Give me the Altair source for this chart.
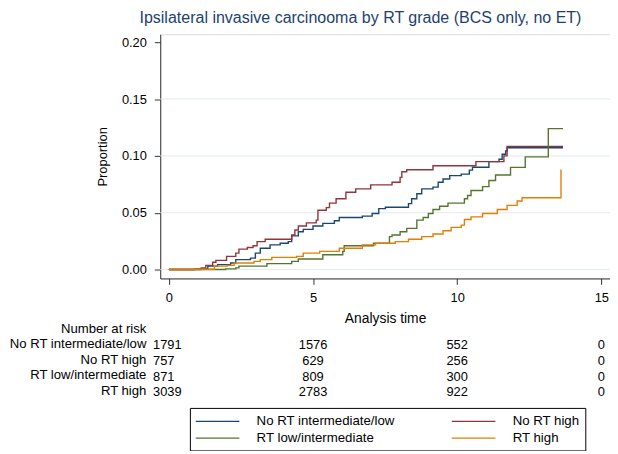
import altair as alt
import pandas as pd

FONT = "Liberation Sans"

groups = ["No RT intermediate/low", "No RT high", "RT low/intermediate", "RT high"]
colors = ["#1a476f", "#90353b", "#55752f", "#e37e00"]

# Cumulative incidence step curves (time in years, proportion)
t_blue = [0, 0.89, 1.0, 1.35, 1.69, 2.14, 2.32, 2.83, 3.0, 3.17, 3.51, 3.86, 4.14, 4.26, 4.49, 4.66,
          5.0, 5.34, 5.74, 5.91, 6.71, 7.05, 7.28, 7.51, 8.31, 8.42, 8.6, 8.77, 9.16, 9.34, 9.51,
          9.74, 10.14, 10.42, 10.53, 11.1, 11.45, 11.56, 11.68, 11.73, 13.67]
p_blue = [0, 0.0003, 0.0006, 0.003, 0.0043, 0.0058, 0.0087, 0.0101, 0.0145, 0.0188, 0.0217, 0.0232,
          0.0246, 0.0296, 0.0333, 0.0354, 0.0383, 0.0406, 0.0429, 0.0458, 0.047, 0.0493, 0.0536,
          0.0548, 0.058, 0.0623, 0.0667, 0.071, 0.0725, 0.0768, 0.0797, 0.0826, 0.084, 0.0875,
          0.090, 0.095, 0.0971, 0.1014, 0.1043, 0.1072, 0.1072]

t_red = [0, 1.12, 1.28, 1.52, 1.63, 2.0, 2.32, 2.43, 2.72, 2.92, 3.06, 3.34, 4.26, 4.37, 4.49, 4.77,
         5.11, 5.17, 5.46, 5.57, 5.8, 6.14, 6.48, 7.0, 7.74, 8.02, 8.08, 8.25, 9.16, 10.65, 11.62,
         11.73, 13.67]
p_red = [0, 0.0015, 0.0037, 0.0064, 0.0081, 0.0116, 0.0145, 0.018, 0.0194, 0.0209, 0.0246, 0.0267,
         0.0304, 0.0348, 0.0383, 0.0411, 0.0435, 0.0522, 0.0545, 0.0585, 0.0623, 0.068, 0.071,
         0.0745, 0.0768, 0.0811, 0.0861, 0.0878, 0.0913, 0.095, 0.100, 0.1084, 0.1084]

t_green = [0, 1.97, 2.32, 2.43, 3.4, 4.26, 4.49, 5.34, 6.03, 6.08, 7.1, 7.65, 7.74, 8.02, 8.25, 8.6,
           8.82, 9.0, 9.16, 9.39, 9.68, 10.25, 10.36, 10.48, 10.88, 11.1, 11.33, 11.85, 12.36,
           13.16, 13.67]
p_green = [0, 0.0006, 0.0015, 0.003, 0.0052, 0.0072, 0.0093, 0.013, 0.016, 0.0209, 0.0232, 0.029,
           0.0304, 0.0333, 0.0362, 0.0435, 0.0458, 0.0493, 0.0528, 0.0557, 0.0585, 0.0623, 0.0652,
           0.0696, 0.073, 0.0783, 0.0832, 0.0899, 0.0991, 0.124, 0.124]

t_orange = [0, 0.85, 1.0, 1.58, 2.03, 2.26, 2.95, 3.17, 3.57, 4.43, 4.66, 5.23, 5.91, 6.71, 7.17,
            7.85, 8.31, 8.77, 9.16, 9.51, 9.79, 10.14, 10.25, 10.48, 10.88, 11.39, 11.73, 12.08,
            12.25, 13.6, 13.62]
p_orange = [0, 0.0002, 0.0003, 0.003, 0.0037, 0.0058, 0.0072, 0.0087, 0.0107, 0.0116, 0.0145,
            0.016, 0.0188, 0.0217, 0.0232, 0.0246, 0.0267, 0.029, 0.0313, 0.0342, 0.0371, 0.0391,
            0.0441, 0.0464, 0.0493, 0.0528, 0.0565, 0.0603, 0.0632, 0.0875, 0.0875]

# Number at risk table
risk_times = [0, 5, 10, 15]
risk_blue = [1791, 1576, 552, 0]
risk_red = [757, 629, 256, 0]
risk_green = [871, 809, 300, 0]
risk_orange = [3039, 2783, 922, 0]

x_ticks = [0, 5, 10, 15]
y_ticks = [0.0, 0.05, 0.10, 0.15, 0.20]
grid_vals = [0.0, 0.05, 0.10, 0.15]

series = [(groups[0], t_blue, p_blue), (groups[1], t_red, p_red),
          (groups[2], t_green, p_green), (groups[3], t_orange, p_orange)]
rows = []
for g, ts, ps in series:
    for t, p in zip(ts, ps):
        rows.append({"group": g, "t": t, "p": p})
df = pd.DataFrame(rows)

risk = [risk_blue, risk_red, risk_green, risk_orange]

xscale = alt.Scale(domain=[-0.3, 15.3], nice=False, zero=False)
yscale = alt.Scale(domain=[-0.0078, 0.207], nice=False, zero=False)

x_axis = alt.Axis(values=x_ticks, title="Analysis time", grid=False, labelFlush=False,
                  labelOverlap=False, domainColor="#333333", tickColor="#333333", tickSize=6,
                  labelFont=FONT, labelFontSize=13, labelColor="#000000", labelPadding=7,
                  titleFont=FONT, titleFontSize=14, titleFontWeight="normal",
                  titleColor="#000000", titlePadding=8)
y_axis = alt.Axis(values=y_ticks, format=".2f", title="Proportion", grid=False, labelFlush=False,
                  labelOverlap=False, domainColor="#333333", tickColor="#333333", tickSize=6,
                  labelFont=FONT, labelFontSize=13, labelColor="#000000", labelPadding=8,
                  titleFont=FONT, titleFontSize=13, titleFontWeight="normal",
                  titleColor="#000000", titlePadding=12)

grid = alt.Chart(pd.DataFrame({"g": grid_vals})).mark_rule(
    color="#e2eaed", strokeWidth=1).encode(y=alt.Y("g:Q", scale=yscale, axis=y_axis))

# legend symbol: a long horizontal stroke drawn from a small layout box
lines = alt.Chart(df).mark_line(interpolate="step-after", strokeWidth=1.4, clip=True).encode(
    x=alt.X("t:Q", scale=xscale, axis=x_axis),
    y=alt.Y("p:Q", scale=yscale, axis=y_axis),
    color=alt.Color("group:N", scale=alt.Scale(domain=groups, range=colors),
                    legend=alt.Legend(title=None, orient="none", legendX=30, legendY=378,
                                      direction="horizontal", columns=2,
                                      symbolType="M-3.4,0H3.4", symbolSize=169,
                                      symbolOffset=14.5, symbolStrokeWidth=1.2, labelFont=FONT,
                                      labelFontSize=13.4, labelColor="#000000", labelOffset=32,
                                      columnPadding=54, rowPadding=3, padding=6,
                                      strokeColor="#000000", fillColor="white",
                                      cornerRadius=0, labelLimit=0)),
)

layers = [grid, lines]

text_kw = dict(font=FONT, fontSize=13.3, color="#000000", baseline="middle")
layers.append(alt.Chart(pd.DataFrame({"label": ["Number at risk"]})).mark_text(
    align="right", **text_kw).encode(x=alt.value(-14), y=alt.value(298), text="label:N"))

label_y = [313, 329.5, 345, 360.5]
for i, g in enumerate(groups):
    layers.append(alt.Chart(pd.DataFrame({"label": [g]})).mark_text(
        align="right", **text_kw).encode(x=alt.value(-14), y=alt.value(label_y[i]), text="label:N"))
    rdf = pd.DataFrame({"t": risk_times, "n": risk[i]})
    layers.append(alt.Chart(rdf[rdf.t == 0]).mark_text(
        align="left", dx=-16, font=FONT, fontSize=13, color="#000000", baseline="middle").encode(
        x=alt.X("t:Q", scale=xscale, axis=x_axis), y=alt.value(label_y[i] + 1.5), text="n:Q"))
    layers.append(alt.Chart(rdf[rdf.t > 0]).mark_text(
        align="center", font=FONT, fontSize=13, color="#000000", baseline="middle").encode(
        x=alt.X("t:Q", scale=xscale, axis=x_axis), y=alt.value(label_y[i] + 1.5), text="n:Q"))

chart = alt.layer(*layers).properties(
    width=455, height=247,
    title=alt.TitleParams("Ipsilateral invasive carcinooma by RT grade (BCS only, no ET)",
                          anchor="start", frame="group", dx=-21, offset=8, font=FONT,
                          fontSize=16.2, fontWeight="normal", color="#1e3f6e"),
    autosize=alt.AutoSizeParams(type="none"),
    padding={"left": 154, "top": 24, "right": 0, "bottom": 172},
).configure_view(strokeWidth=0).configure(background="white")

chart.save("out.html", embed_options={"renderer": "svg", "actions": False})
